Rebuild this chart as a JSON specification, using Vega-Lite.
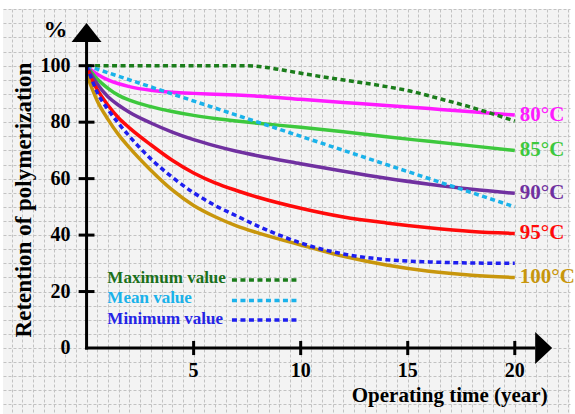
{
  "$schema": "https://vega.github.io/schema/vega-lite/v6.json",
  "width": 575,
  "height": 414,
  "autosize": {"type": "fit", "contains": "padding"},
  "padding": {"left": 3, "top": 9, "right": 0, "bottom": 0},
  "background": "#ffffff",
  "config": {
    "view": {"fill": "#f3f3f3", "stroke": null},
    "axis": {"labels": false, "ticks": false, "domain": false, "grid": true, "gridColor": "#c2c2c2", "gridDash": [3, 2], "gridWidth": 1},
    "axisX": {"tickCount": 48},
    "axisY": {"tickCount": 30},
    "text": {"font": "Liberation Serif", "fontWeight": "bold", "baseline": "middle"}
  },
  "data": {"values": [{}]},
  "datasets": {
    "curves": [
      {"series": "80°C", "t": 0, "v": 100}, {"series": "80°C", "t": 0.25, "v": 98.3}, {"series": "80°C", "t": 0.5, "v": 97}, {"series": "80°C", "t": 1, "v": 95}, {"series": "80°C", "t": 1.5, "v": 93.6}, {"series": "80°C", "t": 2, "v": 92.6}, {"series": "80°C", "t": 3, "v": 91.3}, {"series": "80°C", "t": 4, "v": 90.6}, {"series": "80°C", "t": 5, "v": 90.2}, {"series": "80°C", "t": 6, "v": 89.9}, {"series": "80°C", "t": 7, "v": 89.6}, {"series": "80°C", "t": 8, "v": 89.2}, {"series": "80°C", "t": 10, "v": 88.1}, {"series": "80°C", "t": 12, "v": 87}, {"series": "80°C", "t": 14, "v": 85.9}, {"series": "80°C", "t": 16, "v": 84.8}, {"series": "80°C", "t": 18, "v": 83.7}, {"series": "80°C", "t": 20, "v": 82.5},
      {"series": "85°C", "t": 0, "v": 100}, {"series": "85°C", "t": 0.25, "v": 97.5}, {"series": "85°C", "t": 0.5, "v": 95.3}, {"series": "85°C", "t": 1, "v": 92}, {"series": "85°C", "t": 1.5, "v": 89.5}, {"series": "85°C", "t": 2, "v": 87.8}, {"series": "85°C", "t": 3, "v": 85.5}, {"series": "85°C", "t": 4, "v": 83.8}, {"series": "85°C", "t": 5, "v": 82.4}, {"series": "85°C", "t": 6, "v": 81.3}, {"series": "85°C", "t": 7, "v": 80.4}, {"series": "85°C", "t": 8, "v": 79.6}, {"series": "85°C", "t": 10, "v": 78.2}, {"series": "85°C", "t": 12, "v": 76.6}, {"series": "85°C", "t": 14, "v": 74.8}, {"series": "85°C", "t": 16, "v": 73.2}, {"series": "85°C", "t": 18, "v": 71.6}, {"series": "85°C", "t": 20, "v": 70},
      {"series": "90°C", "t": 0, "v": 100}, {"series": "90°C", "t": 0.25, "v": 96.5}, {"series": "90°C", "t": 0.5, "v": 93.5}, {"series": "90°C", "t": 1, "v": 89}, {"series": "90°C", "t": 1.5, "v": 86}, {"series": "90°C", "t": 2, "v": 83.5}, {"series": "90°C", "t": 3, "v": 79.7}, {"series": "90°C", "t": 4, "v": 76.5}, {"series": "90°C", "t": 5, "v": 73.8}, {"series": "90°C", "t": 6, "v": 71.6}, {"series": "90°C", "t": 7, "v": 69.7}, {"series": "90°C", "t": 8, "v": 68.1}, {"series": "90°C", "t": 10, "v": 65.3}, {"series": "90°C", "t": 12, "v": 62.6}, {"series": "90°C", "t": 14, "v": 60.1}, {"series": "90°C", "t": 16, "v": 58}, {"series": "90°C", "t": 18, "v": 56.2}, {"series": "90°C", "t": 20, "v": 54.8},
      {"series": "95°C", "t": 0, "v": 100}, {"series": "95°C", "t": 0.25, "v": 95}, {"series": "95°C", "t": 0.5, "v": 91.5}, {"series": "95°C", "t": 1, "v": 86}, {"series": "95°C", "t": 1.5, "v": 81.5}, {"series": "95°C", "t": 2, "v": 78}, {"series": "95°C", "t": 3, "v": 72}, {"series": "95°C", "t": 4, "v": 66.5}, {"series": "95°C", "t": 5, "v": 62}, {"series": "95°C", "t": 6, "v": 58.5}, {"series": "95°C", "t": 7, "v": 55.8}, {"series": "95°C", "t": 8, "v": 53.4}, {"series": "95°C", "t": 10, "v": 49.5}, {"series": "95°C", "t": 12, "v": 46.4}, {"series": "95°C", "t": 14, "v": 44.3}, {"series": "95°C", "t": 16, "v": 42.6}, {"series": "95°C", "t": 18, "v": 41.3}, {"series": "95°C", "t": 20, "v": 40.6},
      {"series": "100°C", "t": 0, "v": 97}, {"series": "100°C", "t": 0.5, "v": 87.5}, {"series": "100°C", "t": 1, "v": 81}, {"series": "100°C", "t": 1.5, "v": 75.5}, {"series": "100°C", "t": 2, "v": 71}, {"series": "100°C", "t": 3, "v": 63}, {"series": "100°C", "t": 4, "v": 56}, {"series": "100°C", "t": 5, "v": 50.5}, {"series": "100°C", "t": 6, "v": 46.5}, {"series": "100°C", "t": 7, "v": 43.3}, {"series": "100°C", "t": 8, "v": 40.8}, {"series": "100°C", "t": 10, "v": 36.5}, {"series": "100°C", "t": 12, "v": 32.5}, {"series": "100°C", "t": 14, "v": 29.4}, {"series": "100°C", "t": 16, "v": 27.2}, {"series": "100°C", "t": 18, "v": 25.8}, {"series": "100°C", "t": 20, "v": 25},
      {"series": "Maximum value", "t": 0, "v": 100}, {"series": "Maximum value", "t": 7.5, "v": 100}, {"series": "Maximum value", "t": 8.5, "v": 99.3}, {"series": "Maximum value", "t": 9.5, "v": 98}, {"series": "Maximum value", "t": 11, "v": 96.1}, {"series": "Maximum value", "t": 12.5, "v": 94.4}, {"series": "Maximum value", "t": 14, "v": 92.6}, {"series": "Maximum value", "t": 15, "v": 91.2}, {"series": "Maximum value", "t": 16.6, "v": 88.1}, {"series": "Maximum value", "t": 18, "v": 85.2}, {"series": "Maximum value", "t": 20, "v": 80.4},
      {"series": "Mean value", "t": 0, "v": 100}, {"series": "Mean value", "t": 20, "v": 50},
      {"series": "Minimum value", "t": 0, "v": 100}, {"series": "Minimum value", "t": 0.25, "v": 95}, {"series": "Minimum value", "t": 0.5, "v": 90.5}, {"series": "Minimum value", "t": 1, "v": 84.5}, {"series": "Minimum value", "t": 1.5, "v": 79.5}, {"series": "Minimum value", "t": 2, "v": 75}, {"series": "Minimum value", "t": 3, "v": 67}, {"series": "Minimum value", "t": 4, "v": 60.5}, {"series": "Minimum value", "t": 5, "v": 55}, {"series": "Minimum value", "t": 6, "v": 50.5}, {"series": "Minimum value", "t": 7, "v": 46.8}, {"series": "Minimum value", "t": 8, "v": 43.2}, {"series": "Minimum value", "t": 9, "v": 40}, {"series": "Minimum value", "t": 10, "v": 37.2}, {"series": "Minimum value", "t": 11, "v": 35}, {"series": "Minimum value", "t": 12, "v": 33.3}, {"series": "Minimum value", "t": 14, "v": 31.3}, {"series": "Minimum value", "t": 16, "v": 30.5}, {"series": "Minimum value", "t": 18, "v": 30.1}, {"series": "Minimum value", "t": 20, "v": 30}
    ],
    "xticks": [{"v": 5}, {"v": 10}, {"v": 15}, {"v": 20}],
    "yticks": [{"v": 0}, {"v": 20}, {"v": 40}, {"v": 60}, {"v": 80}, {"v": 100}]
  },
  "layer": [
    {
      "data": {"name": "curves"},
      "transform": [{"filter": {"field": "series", "oneOf": ["80°C", "85°C", "90°C", "95°C", "100°C"]}}],
      "mark": {"type": "line", "strokeWidth": 3.5, "interpolate": "monotone"},
      "encoding": {
        "x": {"field": "t", "type": "quantitative", "title": null,
          "scale": {"domain": [-3.903, 22.579], "nice": false, "zero": false}},
        "y": {"field": "v", "type": "quantitative", "title": null,
          "scale": {"domain": [-23.38, 120.09], "nice": false, "zero": false}},
        "color": {"field": "series", "type": "nominal", "legend": null,
          "scale": {"domain": ["80°C", "85°C", "90°C", "95°C", "100°C", "Maximum value", "Mean value", "Minimum value"],
            "range": ["#ff1aff", "#3dc83d", "#7030a0", "#ff0a0a", "#c8960c", "#1b7d1b", "#1ab2ea", "#1e1ef0"]}}
      }
    },
    {
      "data": {"name": "curves"},
      "transform": [{"filter": {"field": "series", "oneOf": ["Maximum value", "Mean value", "Minimum value"]}}],
      "mark": {"type": "line", "strokeWidth": 3.5, "interpolate": "monotone", "strokeDash": [5, 3.5]},
      "encoding": {
        "x": {"field": "t", "type": "quantitative", "title": null},
        "y": {"field": "v", "type": "quantitative", "title": null},
        "color": {"field": "series", "type": "nominal", "legend": null}
      }
    },
    {
      "data": {"name": "curves"},
      "transform": [{"filter": {"field": "series", "oneOf": ["80°C", "85°C", "90°C", "95°C", "100°C"]}}, {"filter": "datum.t == 20"}],
      "mark": {"type": "text", "align": "left", "dx": 5, "fontSize": 21},
      "encoding": {
        "x": {"field": "t", "type": "quantitative", "title": null},
        "y": {"field": "v", "type": "quantitative", "title": null},
        "text": {"field": "series"},
        "color": {"field": "series", "type": "nominal", "legend": null}
      }
    },
    {
      "mark": {"type": "rule", "color": "#000000", "strokeWidth": 3},
      "encoding": {"x": {"datum": 0, "title": null}, "y": {"datum": -0.5, "title": null}, "y2": {"datum": 108.6}}
    },
    {
      "mark": {"type": "rule", "color": "#000000", "strokeWidth": 3},
      "encoding": {"y": {"datum": 0, "title": null}, "x": {"datum": -0.07, "title": null}, "x2": {"datum": 20.96}}
    },
    {
      "mark": {"type": "point", "shape": "M-1,0.633L1,0.633L0,-0.633Z", "filled": true, "color": "#000000", "opacity": 1, "size": 900},
      "encoding": {"x": {"datum": 0, "title": null}, "y": {"datum": 111.8, "title": null}}
    },
    {
      "mark": {"type": "point", "shape": "M-0.53,-1L0.53,0L-0.53,1Z", "filled": true, "color": "#000000", "opacity": 1, "size": 1024},
      "encoding": {"x": {"datum": 21.35, "title": null}, "y": {"datum": 0, "title": null}}
    },
    {
      "data": {"name": "xticks"},
      "mark": {"type": "rule", "color": "#000000", "strokeWidth": 3},
      "encoding": {"x": {"field": "v", "type": "quantitative", "title": null}, "y": {"datum": -2.5, "title": null}, "y2": {"datum": 2.5}}
    },
    {
      "data": {"name": "yticks"},
      "transform": [{"filter": "datum.v > 0"}],
      "mark": {"type": "rule", "color": "#000000", "strokeWidth": 3},
      "encoding": {"y": {"field": "v", "type": "quantitative", "title": null}, "x": {"datum": -0.37, "title": null}, "x2": {"datum": 0.37}}
    },
    {
      "data": {"name": "xticks"},
      "mark": {"type": "text", "fontSize": 20, "color": "#000000", "dy": 23},
      "encoding": {"x": {"field": "v", "type": "quantitative", "title": null}, "y": {"datum": 0, "title": null}, "text": {"field": "v"}}
    },
    {
      "data": {"name": "yticks"},
      "mark": {"type": "text", "fontSize": 20, "color": "#000000", "align": "right", "dx": -16},
      "encoding": {"y": {"field": "v", "type": "quantitative", "title": null}, "x": {"datum": 0, "title": null}, "text": {"field": "v"}}
    },
    {
      "mark": {"type": "text", "text": "%", "fontSize": 24, "color": "#000000"},
      "encoding": {"x": {"datum": -1.45, "title": null}, "y": {"datum": 112.6, "title": null}}
    },
    {
      "mark": {"type": "text", "text": "Retention of polymerization", "fontSize": 23, "color": "#000000", "angle": 270},
      "encoding": {"x": {"datum": -2.92, "title": null}, "y": {"datum": 52.4, "title": null}}
    },
    {
      "mark": {"type": "text", "text": "Operating time (year)", "fontSize": 21, "color": "#000000"},
      "encoding": {"x": {"datum": 16.96, "title": null}, "y": {"datum": -17.0, "title": null}}
    },
    {
      "mark": {"type": "text", "text": "Maximum value", "fontSize": 17, "color": "#1b701b", "align": "left"},
      "encoding": {"x": {"datum": 0.97, "title": null}, "y": {"datum": 24.7, "title": null}}
    },
    {
      "mark": {"type": "text", "text": "Mean value", "fontSize": 17, "color": "#1ab2ea", "align": "left"},
      "encoding": {"x": {"datum": 0.97, "title": null}, "y": {"datum": 17.6, "title": null}}
    },
    {
      "mark": {"type": "text", "text": "Minimum value", "fontSize": 17, "color": "#2424e6", "align": "left"},
      "encoding": {"x": {"datum": 0.97, "title": null}, "y": {"datum": 10.2, "title": null}}
    },
    {
      "mark": {"type": "rule", "color": "#1b7d1b", "strokeWidth": 3.5, "strokeDash": [5, 3.5]},
      "encoding": {"x": {"datum": 6.79, "title": null}, "x2": {"datum": 9.94}, "y": {"datum": 24.1, "title": null}}
    },
    {
      "mark": {"type": "rule", "color": "#1ab2ea", "strokeWidth": 3.5, "strokeDash": [5, 3.5]},
      "encoding": {"x": {"datum": 6.79, "title": null}, "x2": {"datum": 9.94}, "y": {"datum": 16.8, "title": null}}
    },
    {
      "mark": {"type": "rule", "color": "#1e1ef0", "strokeWidth": 3.5, "strokeDash": [5, 3.5]},
      "encoding": {"x": {"datum": 6.79, "title": null}, "x2": {"datum": 9.94}, "y": {"datum": 9.9, "title": null}}
    }
  ]
}
